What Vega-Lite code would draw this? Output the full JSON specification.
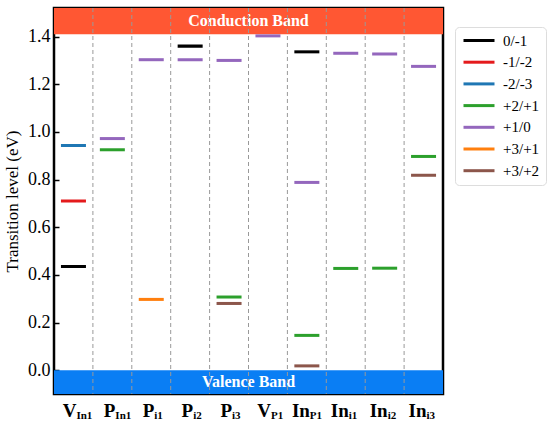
{
  "$schema": "https://vega.github.io/schema/vega-lite/v6.json",
  "width": 389,
  "height": 386,
  "autosize": "none",
  "padding": {"left": 54, "top": 8, "right": 107, "bottom": 32},
  "config": {
    "view": {"stroke": "black", "strokeWidth": 2.5},
    "font": "Liberation Serif"
  },
  "datasets": {
    "levels": [
      {"cat": "VIn1", "transition": "-2/-3", "value": 0.943},
      {"cat": "VIn1", "transition": "-1/-2", "value": 0.71},
      {"cat": "VIn1", "transition": "0/-1", "value": 0.435},
      {"cat": "PIn1", "transition": "+1/0", "value": 0.972},
      {"cat": "PIn1", "transition": "+2/+1", "value": 0.925},
      {"cat": "Pi1", "transition": "+1/0", "value": 1.303},
      {"cat": "Pi1", "transition": "+3/+1", "value": 0.297},
      {"cat": "Pi2", "transition": "0/-1", "value": 1.36},
      {"cat": "Pi2", "transition": "+1/0", "value": 1.303},
      {"cat": "Pi3", "transition": "+1/0", "value": 1.3},
      {"cat": "Pi3", "transition": "+2/+1", "value": 0.307},
      {"cat": "Pi3", "transition": "+3/+2", "value": 0.28},
      {"cat": "VP1", "transition": "+1/0", "value": 1.403},
      {"cat": "InP1", "transition": "0/-1", "value": 1.336},
      {"cat": "InP1", "transition": "+1/0", "value": 0.788},
      {"cat": "InP1", "transition": "+2/+1", "value": 0.146},
      {"cat": "InP1", "transition": "+3/+2", "value": 0.018},
      {"cat": "Ini1", "transition": "+1/0", "value": 1.33},
      {"cat": "Ini1", "transition": "+2/+1", "value": 0.427},
      {"cat": "Ini2", "transition": "+1/0", "value": 1.327},
      {"cat": "Ini2", "transition": "+2/+1", "value": 0.428},
      {"cat": "Ini3", "transition": "+1/0", "value": 1.275},
      {"cat": "Ini3", "transition": "+2/+1", "value": 0.897},
      {"cat": "Ini3", "transition": "+3/+2", "value": 0.818}
    ],
    "cats": [
      {"cat": "VIn1", "base": "V", "sub": "In1"},
      {"cat": "PIn1", "base": "P", "sub": "In1"},
      {"cat": "Pi1", "base": "P", "sub": "i1"},
      {"cat": "Pi2", "base": "P", "sub": "i2"},
      {"cat": "Pi3", "base": "P", "sub": "i3"},
      {"cat": "VP1", "base": "V", "sub": "P1"},
      {"cat": "InP1", "base": "In", "sub": "P1"},
      {"cat": "Ini1", "base": "In", "sub": "i1"},
      {"cat": "Ini2", "base": "In", "sub": "i2"},
      {"cat": "Ini3", "base": "In", "sub": "i3"}
    ],
    "bands": [
      {"name": "Conduction Band", "lo": 1.41, "hi": 1.52, "mid": 1.465},
      {"name": "Valence Band", "lo": -0.1, "hi": 0, "mid": -0.05}
    ]
  },
  "layer": [
    {
      "data": {"name": "bands"},
      "mark": {"type": "rect"},
      "encoding": {
        "y": {"field": "lo", "type": "quantitative", "title": "Transition level (eV)"},
        "y2": {"field": "hi"},
        "fill": {
          "field": "name",
          "type": "nominal",
          "scale": {"domain": ["Conduction Band", "Valence Band"], "range": ["#ff5733", "#0a7ef4"]},
          "legend": null
        }
      }
    },
    {
      "data": {"name": "bands"},
      "mark": {"type": "text", "color": "white", "fontWeight": "bold", "fontSize": 16, "baseline": "middle"},
      "encoding": {
        "x": {"datum": "VP1", "type": "nominal", "bandPosition": 0, "axis": null},
        "y": {"field": "mid", "type": "quantitative", "title": "Transition level (eV)"},
        "text": {"field": "name"}
      }
    },
    {
      "data": {"name": "cats"},
      "transform": [{"filter": "datum.cat != 'VIn1'"}],
      "mark": {"type": "rule", "color": "#999999", "strokeWidth": 1, "strokeDash": [4, 3]},
      "encoding": {
        "x": {"field": "cat", "type": "nominal", "bandPosition": 0, "axis": null}
      }
    },
    {
      "data": {"name": "levels"},
      "mark": {"type": "tick", "filled": false, "thickness": 0.01, "size": 22, "strokeWidth": 3, "opacity": 1},
      "encoding": {
        "x": {
          "field": "cat",
          "type": "nominal",
          "sort": null,
          "axis": null,
          "scale": {
            "type": "band",
            "domain": ["VIn1", "PIn1", "Pi1", "Pi2", "Pi3", "VP1", "InP1", "Ini1", "Ini2", "Ini3"],
            "paddingInner": 0,
            "paddingOuter": 0
          }
        },
        "y": {
          "field": "value",
          "type": "quantitative",
          "title": "Transition level (eV)",
          "scale": {"domain": [-0.1, 1.52], "nice": false, "zero": false},
          "axis": {
            "values": [0, 0.1, 0.2, 0.3, 0.4, 0.5, 0.6, 0.7, 0.8, 0.9, 1.0, 1.1, 1.2, 1.3, 1.4],
            "labelExpr": "round(datum.value * 10) % 2 == 0 ? format(datum.value, '.1f') : ''",
            "grid": false,
            "domain": false,
            "tickSize": -5,
            "tickWidth": 1.5,
            "tickColor": "black",
            "labelPadding": 9,
            "labelFont": "Liberation Serif",
            "labelFontSize": 18,
            "labelColor": "black",
            "titleFont": "Liberation Serif",
            "titleFontSize": 17,
            "titleFontWeight": "normal",
            "titleColor": "black",
            "titlePadding": 6
          }
        },
        "color": {
          "field": "transition",
          "type": "nominal",
          "scale": {
            "domain": ["0/-1", "-1/-2", "-2/-3", "+2/+1", "+1/0", "+3/+1", "+3/+2"],
            "range": ["#000000", "#e41a1c", "#1f77b4", "#2ca02c", "#9467bd", "#ff7f0e", "#8c564b"]
          },
          "legend": {
            "title": null,
            "orient": "none",
            "legendX": 401,
            "legendY": 19,
            "symbolType": "M-1,0H5.2",
            "symbolSize": 100,
            "symbolStrokeWidth": 3,
            "labelFont": "Liberation Serif",
            "labelFontSize": 15,
            "labelColor": "black",
            "labelOffset": 27,
            "rowPadding": 5.7,
            "padding": 6,
            "strokeColor": "#dddddd",
            "fillColor": "white",
            "cornerRadius": 4
          }
        }
      }
    },
    {
      "data": {"name": "cats"},
      "mark": {"type": "text", "fontWeight": "bold", "fontSize": 19, "align": "right", "baseline": "alphabetic", "dx": 3, "dy": 23, "color": "black"},
      "encoding": {
        "x": {"field": "cat", "type": "nominal", "axis": null},
        "y": {"datum": -0.1, "type": "quantitative"},
        "text": {"field": "base"}
      }
    },
    {
      "data": {"name": "cats"},
      "mark": {"type": "text", "fontWeight": "bold", "fontSize": 11, "align": "left", "baseline": "alphabetic", "dx": 3, "dy": 25, "color": "black"},
      "encoding": {
        "x": {"field": "cat", "type": "nominal", "axis": null},
        "y": {"datum": -0.1, "type": "quantitative"},
        "text": {"field": "sub"}
      }
    }
  ]
}
